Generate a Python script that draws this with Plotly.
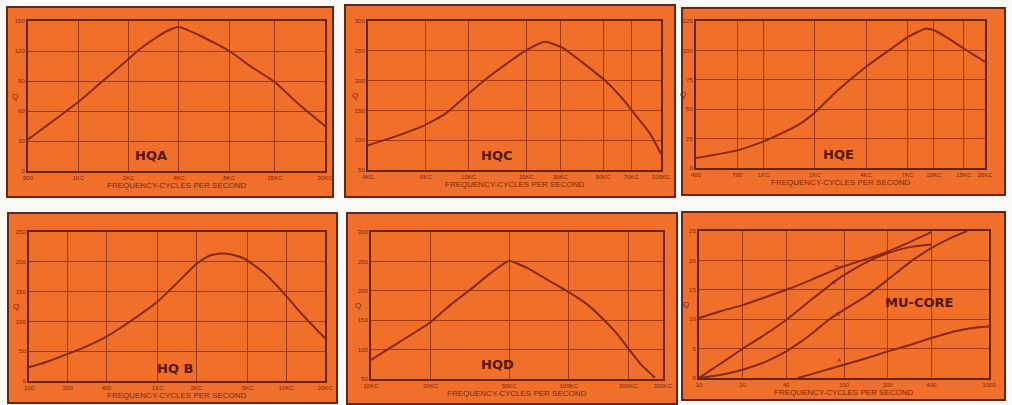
import math
import plotly.graph_objects as go

W, H = 1012, 405

# ---------------- data ----------------
hqa_freq = [500, 1000, 1400, 2000, 2260, 2900, 3400, 4000, 5260, 8000, 10900, 15000, 20650, 30000]
hqa_q = [31.6, 69, 90, 112, 120, 133, 140, 144, 136, 120, 104, 89, 67.5, 45]
hqa_ticks = [500, 1000, 2000, 4000, 8000, 15000, 30000]
hqa_ticktext = ["500", "1KC", "2KC", "4KC", "8KC", "15KC", "30KC"]
hqa_yticks = [0, 30, 60, 90, 120, 150]

hqc_freq = [2910, 4130, 5890, 7610, 10000, 11910, 15850, 20000, 24810, 30800, 38830, 51650, 63370, 72500, 87700, 100000]
hqc_q = [90, 106, 125, 145, 178, 199, 229, 251, 265, 255, 231, 199, 169, 145, 111, 77]
hqc_ticks = [3000, 6000, 10000, 20000, 30000, 50000, 70000, 100000]
hqc_ticktext = ["4KC", "6KC", "10KC", "20KC", "30KC", "50KC", "70KC", "100KC"]
hqc_yticks = [50, 100, 150, 200, 250, 300]

hqe_freq = [400, 700, 1000, 1280, 1600, 1980, 2735, 4000, 5470, 7060, 8940, 10000, 12500, 15000, 20000]
hqe_q = [8.5, 15, 22.6, 29.6, 36.7, 46.6, 66.3, 86.1, 100.2, 111.5, 118.5, 117.1, 109.2, 101.6, 90.3]
hqe_ticks = [400, 700, 1000, 2000, 4000, 7000, 10000, 15000, 20000]
hqe_ticktext = ["400", "700", "1KC", "2KC", "4KC", "7KC", "10KC", "15KC", "20KC"]
hqe_yticks = [0, 25, 50, 75, 100, 125]

hqb_freq = [100, 144, 200, 277, 400, 598, 1000, 1368, 2000, 2331, 2624, 3134, 3743, 4746, 6760, 9540, 13760, 20000]
hqb_q = [23, 33.6, 45.4, 57.7, 74.5, 98.6, 133.4, 161.4, 196.2, 206.3, 211.3, 214.1, 212.4, 205.1, 181, 147.4, 108.2, 71.7]
hqb_ticks = [100, 200, 400, 1000, 2000, 5000, 10000, 20000]
hqb_ticktext = ["100", "200", "400", "1KC", "2KC", "5KC", "10KC", "20KC"]
hqb_yticks = [0, 50, 100, 150, 200, 250]

hqd_freq = [10000, 14040, 20000, 25210, 31260, 40290, 50000, 61870, 78200, 100000, 124900, 151800, 177500, 200000, 233200, 272700]
hqd_q = [82.4, 113.6, 146.6, 176.1, 200, 230.1, 251.1, 238.6, 218.7, 197.7, 176.1, 149.4, 125, 102.3, 73.9, 52.3]
hqd_ticks = [10000, 20000, 50000, 100000, 200000, 300000]
hqd_ticktext = ["10KC", "20KC", "50KC", "100KC", "200KC", "300KC"]
hqd_yticks = [50, 100, 150, 200, 250, 300]

mu_d_freq = [10, 14.3, 20, 28.4, 40, 59.4, 85.9, 100, 145.4, 200, 288.4, 400]
mu_d_q = [10.2, 11.4, 12.4, 13.7, 15.0, 16.7, 18.4, 19.0, 20.3, 21.5, 23.2, 24.8]
mu_c_freq = [10, 14.3, 20, 28.4, 40, 59.4, 85.9, 100, 145.4, 200, 288.4, 400]
mu_c_q = [0, 2.55, 4.98, 7.35, 9.9, 13.3, 16.4, 17.5, 19.8, 21.2, 22.3, 22.7]
mu_b_freq = [10, 14.3, 20, 28.4, 40, 50.7, 62.6, 81.4, 100, 145.4, 200, 288.4, 400, 543, 706]
mu_b_q = [0, 0.57, 1.41, 2.71, 4.52, 6.22, 7.92, 10.2, 11.6, 14.1, 16.7, 19.8, 22.1, 23.8, 25]
mu_a_freq = [48.1, 69.5, 100, 145.4, 200, 288.4, 400, 572, 745, 1000]
mu_a_q = [0, 1.13, 2.26, 3.39, 4.52, 5.66, 6.79, 7.92, 8.48, 8.77]
mu_ticks = [10, 20, 40, 100, 200, 400, 1000]
mu_ticktext = ["10", "20", "40", "100", "200", "400", "1000"]
mu_yticks = [0, 5, 10, 15, 20, 25]

# ---------------- style ----------------
CARD = "#ef6f2b"
PLOT = "#f16f29"
GRID = "#9c3a1c"
CURVE = "#85291a"
BORDER = "#6a2414"
TEXT = "#7a2a16"
DARK = "#55160e"
PAGE = "#fbfaf7"

# pixel boxes: plot area (x0, x1, y0, y1) and card (x0, x1, y0, y1)
panels = [
    dict(name="HQA", plot=(28, 325, 21, 171), card=(7, 333, 7, 197),
         ticks=hqa_ticks, ticktext=hqa_ticktext, yticks=hqa_yticks,
         series=[(hqa_freq, hqa_q)], label=(2715, 16), smooth=0.5),
    dict(name="HQC", plot=(368, 661, 21, 170), card=(345, 675, 5, 197),
         ticks=hqc_ticks, ticktext=hqc_ticktext, yticks=hqc_yticks,
         series=[(hqc_freq, hqc_q)], label=(13900, 75), smooth=0.5),
    dict(name="HQE", plot=(696, 985, 21, 168), card=(682, 1005, 8, 195),
         ticks=hqe_ticks, ticktext=hqe_ticktext, yticks=hqe_yticks,
         series=[(hqe_freq, hqe_q)], label=(2770, 11.3), smooth=0.5),
    dict(name="HQ B", plot=(29, 325, 232, 381), card=(8, 337, 213, 403),
         ticks=hqb_ticks, ticktext=hqb_ticktext, yticks=hqb_yticks,
         series=[(hqb_freq, hqb_q)], label=(1368, 21.3), smooth=0.5),
    dict(name="HQD", plot=(371, 663, 232, 379), card=(347, 677, 213, 404),
         ticks=hqd_ticks, ticktext=hqd_ticktext, yticks=hqd_yticks,
         series=[(hqd_freq, hqd_q)], label=(43500, 74), smooth=0.3),
    dict(name="MU-CORE", plot=(699, 989, 231, 378), card=(682, 1005, 212, 400),
         ticks=mu_ticks, ticktext=mu_ticktext, yticks=mu_yticks,
         series=[(mu_d_freq, mu_d_q), (mu_c_freq, mu_c_q), (mu_b_freq, mu_b_q), (mu_a_freq, mu_a_q)],
         label=(329, 12.8), smooth=0.5),
]

fig = go.Figure()
shapes = []
annotations = []
layout = {}

for i, p in enumerate(panels, start=1):
    x0, x1, y0, y1 = p["plot"]
    cx0, cx1, cy0, cy1 = p["card"]
    shapes.append(dict(type="rect", xref="paper", yref="paper", layer="below",
                       x0=cx0 / W, x1=cx1 / W, y0=1 - cy1 / H, y1=1 - cy0 / H,
                       fillcolor=CARD, line=dict(color=BORDER, width=2)))
    xa = "xaxis" if i == 1 else f"xaxis{i}"
    ya = "yaxis" if i == 1 else f"yaxis{i}"
    xr = "x" if i == 1 else f"x{i}"
    yr = "y" if i == 1 else f"y{i}"
    layout[xa] = dict(
        domain=[x0 / W, x1 / W], anchor=yr, type="log", automargin=False,
        range=[math.log10(p["ticks"][0]), math.log10(p["ticks"][-1])],
        tickvals=p["ticks"], ticktext=p["ticktext"],
        showgrid=True, gridcolor=GRID, gridwidth=1.3,
        showline=True, mirror=True, linecolor=BORDER, linewidth=2,
        ticks="", zeroline=False, ticklabelstandoff=0,
        tickfont=dict(size=6, color=TEXT, family="Liberation Sans"),
    )
    layout[ya] = dict(
        domain=[1 - y1 / H, 1 - y0 / H], anchor=xr, automargin=False,
        range=[p["yticks"][0], p["yticks"][-1]], tickvals=p["yticks"],
        showgrid=True, gridcolor=GRID, gridwidth=1.3,
        showline=True, mirror=True, linecolor=BORDER, linewidth=2,
        ticks="", zeroline=False, ticklabelstandoff=0,
        tickfont=dict(size=6, color=TEXT, family="Liberation Sans"),
    )
    shapes.append(dict(type="rect", xref=f"{xr} domain", yref=f"{yr} domain", layer="below",
                       x0=0, x1=1, y0=0, y1=1, fillcolor=PLOT, line=dict(width=0)))
    for fx, fq in p["series"]:
        fig.add_trace(go.Scatter(x=fx, y=fq, xaxis=xr, yaxis=yr, mode="lines",
                                 line=dict(color=CURVE, width=2, shape="spline", smoothing=p["smooth"]),
                                 showlegend=False, hoverinfo="skip"))
    annotations.append(dict(text="<b>" + p["name"] + "</b>", xref=xr, yref=yr,
                            x=math.log10(p["label"][0]), y=p["label"][1],
                            xanchor="center", yanchor="middle",
                            showarrow=False, font=dict(size=13, color=DARK, family="DejaVu Sans")))
    annotations.append(dict(text="FREQUENCY-CYCLES PER SECOND", xref="paper", yref="paper",
                            x=(x0 + x1) / 2 / W, y=1 - (y1 + 14) / H,
                            xanchor="center", yanchor="middle",
                            showarrow=False, font=dict(size=8, color=TEXT, family="Liberation Sans")))
    annotations.append(dict(text="Q", xref="paper", yref="paper",
                            x=(x0 - 13) / W, y=1 - ((y0 + y1) / 2) / H,
                            xanchor="center", yanchor="middle",
                            showarrow=False, font=dict(size=8, color=TEXT, family="Liberation Sans")))

# curve letters on MU-CORE panel
mu_letters = ["D", "C", "B", "A"]
mu_letter_pos = [(89.5, 18.9), (85.9, 16.4), (90.3, 10.9), (92.9, 3.0)]
for t, (fx, fq) in zip(mu_letters, mu_letter_pos):
    annotations.append(dict(text=t, xref="x6", yref="y6", x=math.log10(fx), y=fq,
                            xanchor="center", yanchor="middle",
                            showarrow=False, font=dict(size=6, color=TEXT, family="Liberation Sans")))

fig.update_layout(
    width=W, height=H, margin=dict(l=0, r=0, t=0, b=0),
    paper_bgcolor=PAGE, plot_bgcolor=PLOT,
    shapes=shapes, annotations=annotations, showlegend=False,
    **layout,
)

fig.write_html("out.html", config={"displayModeBar": False},
               post_script="document.body.style.margin='0';document.body.style.overflow='hidden';")
